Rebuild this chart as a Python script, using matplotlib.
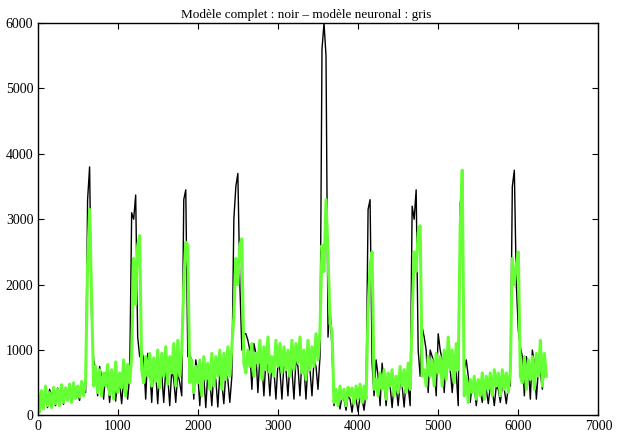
import numpy as np
import matplotlib
matplotlib.use("Agg")
import matplotlib.pyplot as plt

plt.rcParams['font.family'] = ['Liberation Serif', 'DejaVu Serif']

# Pas d'echantillonnage (valeurs relevees tous les 25 pas de temps)
pas = 25

# Modele complet (trace noir), x = 0, 25, 50, ...
modele_complet = [
    350, 100, 380, 300, 250, 120, 400, 320,        # 0
    280, 150, 420, 340, 300, 170, 430, 360,        # 200
    310, 200, 460, 380, 330, 230, 480, 400,        # 400
    350, 3300, 3800, 1500, 850, 700, 300, 750,     # 600
    600, 250, 650, 550, 200, 600, 500, 220,        # 800
    550, 500, 180, 580, 520, 250, 600, 3100,       # 1000
    3000, 3370, 1200, 900, 1000, 850, 250, 950,    # 1200
    750, 200, 800, 650, 180, 700, 650, 200,        # 1400
    700, 600, 150, 700, 550, 200, 650, 500,        # 1600
    300, 3300, 3450, 900, 950, 800, 250, 850,      # 1800
    650, 150, 700, 600, 120, 650, 550, 150,        # 2000
    650, 550, 130, 650, 500, 180, 650, 550,        # 2200
    200, 600, 3000, 3500, 3700, 2000, 1000, 1250,  # 2400
    1250, 1150, 1000, 400, 1100, 950, 350, 900,    # 2600
    800, 300, 850, 750, 300, 800, 700, 250,        # 2800
    800, 700, 250, 800, 700, 300, 800, 700,        # 3000
    250, 850, 750, 300, 850, 750, 250, 800,        # 3200
    700, 300, 850, 750, 400, 900, 5600, 6000,      # 3400
    5500, 1200, 1700, 1000, 150, 350, 300, 100,    # 3600
    300, 250, 80, 300, 250, 50, 300, 250,          # 3800
    60, 300, 250, 80, 350, 3150, 3300, 800,        # 4000
    300, 850, 600, 150, 800, 500, 150, 550,        # 4200
    450, 120, 500, 450, 150, 500, 450, 130,        # 4400
    550, 450, 150, 3200, 3000, 3450, 1000, 600,    # 4600
    1350, 1200, 1000, 350, 1000, 900, 800, 300,    # 4800
    1250, 1000, 850, 350, 900, 800, 700, 350,      # 5000
    750, 650, 150, 3250, 3400, 700, 850, 600,      # 5200
    200, 500, 450, 150, 450, 400, 200, 450,        # 5400
    400, 180, 450, 400, 150, 450, 400, 200,        # 5600
    450, 400, 180, 450, 450, 3500, 3750, 2000,     # 5800
    1300, 1050, 900, 300, 900, 750, 250, 1000,     # 6000
    800, 250, 700, 650, 400, 700, 650,             # 6200
]

# Modele neuronal (trace vert)
modele_neuronal = [
    400, 50, 380, 100, 450, 150, 350, 120,         # 0
    430, 180, 400, 150, 470, 200, 420, 230,        # 200
    480, 200, 500, 260, 450, 280, 520, 300,        # 400
    540, 2300, 3150, 1800, 450, 750, 350, 700,     # 600
    300, 650, 450, 780, 320, 700, 250, 820,        # 800
    350, 650, 420, 850, 300, 780, 500, 900,        # 1000
    2400, 1700, 2600, 2750, 700, 500, 900, 600,    # 1200
    950, 450, 880, 520, 1000, 420, 950, 600,       # 1400
    1050, 480, 900, 650, 1100, 450, 1150, 600,     # 1600
    1000, 2000, 2650, 2600, 500, 850, 350, 750,    # 1800
    500, 850, 300, 900, 550, 800, 400, 950,        # 2000
    450, 900, 600, 1000, 400, 950, 550, 1050,      # 2200
    600, 1050, 1500, 2400, 2000, 2600, 2700, 800,  # 2400
    650, 1000, 750, 1100, 600, 950, 800, 1150,     # 2600
    550, 1050, 700, 1200, 650, 900, 600, 1150,     # 2800
    750, 1100, 650, 1050, 700, 1000, 600, 1150,    # 3000
    700, 1100, 800, 1200, 650, 1000, 550, 1150,    # 3200
    700, 1050, 750, 1250, 850, 1300, 2600, 2200,   # 3400
    3300, 2500, 1400, 1300, 200, 400, 150, 450,    # 3600
    250, 400, 150, 430, 300, 420, 180, 450,        # 3800
    250, 480, 200, 450, 250, 1600, 2300, 2500,     # 4000
    400, 550, 300, 650, 400, 700, 250, 650,        # 4200
    450, 700, 300, 600, 350, 750, 450, 700,        # 4400
    350, 800, 400, 1500, 2500, 2200, 2800, 2900,   # 4600
    600, 700, 450, 900, 600, 850, 450, 950,        # 4800
    650, 900, 450, 1000, 550, 1200, 700, 1000,     # 5000
    500, 1100, 700, 2900, 3750, 300, 600, 200,     # 5200
    550, 350, 600, 250, 550, 300, 650, 250,        # 5400
    600, 400, 650, 300, 700, 450, 650, 300,        # 5600
    700, 400, 650, 350, 700, 2400, 2000, 2300,     # 5800
    2500, 600, 500, 900, 400, 850, 550, 900,       # 6000
    400, 950, 600, 1150, 450, 950, 600,            # 6200
]

temps = np.arange(len(modele_complet)) * pas

x_ticks = [0, 1000, 2000, 3000, 4000, 5000, 6000, 7000]
y_ticks = [0, 1000, 2000, 3000, 4000, 5000, 6000]

fig = plt.figure(figsize=(6.18, 4.32), dpi=100)
ax = fig.add_axes([0.0607, 0.0382, 0.9077, 0.9086])

ax.plot(temps, modele_complet, color='black', linewidth=1.0)
ax.plot(temps, modele_neuronal, color='#66ff33', linewidth=2.2)

ax.set_xlim(0, 7000)
ax.set_ylim(0, 6000)
ax.set_xticks(x_ticks)
ax.set_yticks(y_ticks)
ax.tick_params(direction='in', length=4.5, width=0.8, top=True, right=True,
               labelsize=10, pad=3)
for s in ax.spines.values():
    s.set_linewidth(1.0)

fig.text(0.495, 0.958, "Modèle complet : noir – modèle neuronal : gris",
         ha='center', va='baseline', fontsize=9.5)

fig.savefig("out.png", dpi=100)
